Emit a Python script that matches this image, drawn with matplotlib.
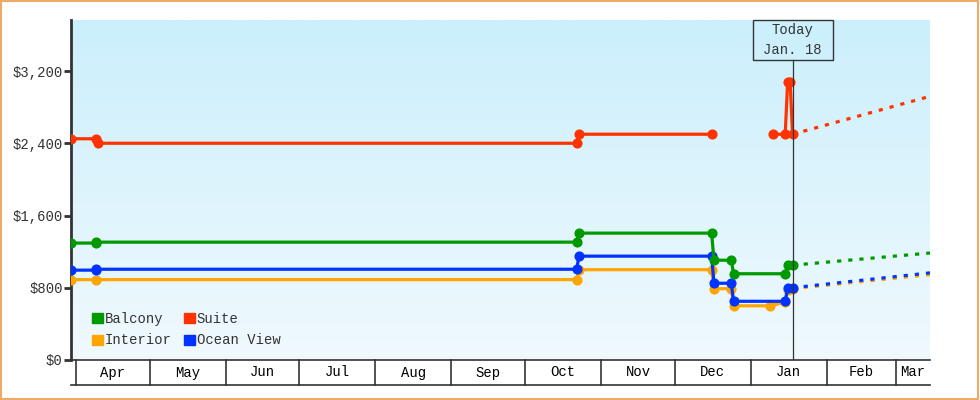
import numpy as np
import pandas as pd
import matplotlib
matplotlib.use("Agg")
import matplotlib.pyplot as plt
import matplotlib.dates as mdates
from matplotlib.patches import Rectangle

# ----------------------------
# Data (price history per cabin type, None = gap)
# ----------------------------
balcony_dates = ["2024-03-30", "2024-04-09", "2024-04-09", "2024-10-22", "2024-10-23",
                 "2024-12-16", "2024-12-17", "2024-12-24", "2024-12-25", "2025-01-15",
                 "2025-01-16", "2025-01-18"]
balcony_prices = [1295, 1295, 1305, 1305, 1405, 1405, 1105, 1105, 955, 955, 1050, 1050]

suite_dates = ["2024-03-30", "2024-04-09", "2024-04-10", "2024-10-22", "2024-10-23",
               "2024-12-16", None, "2025-01-10", "2025-01-15", "2025-01-16",
               "2025-01-17", "2025-01-18"]
suite_prices = [2450, 2450, 2400, 2400, 2500, 2500, None, 2500, 2500, 3080, 3080, 2500]

interior_dates = ["2024-03-30", "2024-04-09", "2024-10-22", "2024-10-23", "2024-12-16",
                  "2024-12-17", "2024-12-24", "2024-12-25", "2025-01-09", "2025-01-15",
                  "2025-01-16", "2025-01-18"]
interior_prices = [890, 890, 890, 1000, 1000, 790, 790, 600, 600, 640, 780, 790]

ocean_dates = ["2024-03-30", "2024-04-09", "2024-04-09", "2024-10-22", "2024-10-23",
               "2024-12-16", "2024-12-17", "2024-12-24", "2024-12-25", "2025-01-15",
               "2025-01-16", "2025-01-18"]
ocean_prices = [995, 995, 1005, 1005, 1150, 1150, 850, 850, 650, 650, 795, 800]

# forecast end values (Mar 15)
forecast_end = "2025-03-15"
balcony_forecast = 1185
suite_forecast = 2920
interior_forecast = 945
ocean_forecast = 965

today = "2025-01-18"
months = ["2024-04-01", "2024-05-01", "2024-06-01", "2024-07-01", "2024-08-01",
          "2024-09-01", "2024-10-01", "2024-11-01", "2024-12-01", "2025-01-01",
          "2025-02-01", "2025-03-01"]
month_labels = ["Apr", "May", "Jun", "Jul", "Aug", "Sep", "Oct", "Nov", "Dec", "Jan", "Feb", "Mar"]
y_ticks = [0, 800, 1600, 2400, 3200]

colors = {"Balcony": "#009900", "Suite": "#ff3300", "Interior": "#ffa500", "Ocean View": "#0033ff"}

plt.rcParams["font.family"] = ["Liberation Mono", "DejaVu Sans Mono"]
TXT = "#333333"
FS = 10


def dnum(d):
    return mdates.date2num(pd.Timestamp(d)) if d is not None else np.nan


def to_y(vals):
    return [v if v is not None else np.nan for v in vals]


fig = plt.figure(figsize=(9.8, 4), dpi=100)
fig.patch.set_facecolor("white")
ax = fig.add_axes([71 / 980, 40 / 400, 859 / 980, 340 / 400])

x0 = dnum("2024-03-30")
x1 = dnum(forecast_end)

# gradient background
grad = np.linspace(0, 1, 256).reshape(-1, 1)
cmap = matplotlib.colors.LinearSegmentedColormap.from_list("bg", ["#f0f9fe", "#cbeffc"])
ax.imshow(grad, extent=[0, 1, 0, 1], transform=ax.transAxes, origin="lower",
          aspect="auto", cmap=cmap, zorder=0)
ax.set_xlim(x0, x1)
ax.set_ylim(0, 3765)

series = [
    ("Interior", interior_dates, interior_prices, interior_forecast),
    ("Ocean View", ocean_dates, ocean_prices, ocean_forecast),
    ("Balcony", balcony_dates, balcony_prices, balcony_forecast),
    ("Suite", suite_dates, suite_prices, suite_forecast),
]

for i, (name, d, p, fc) in enumerate(series):
    c = colors[name]
    ax.plot([dnum(v) for v in d], to_y(p), color=c, lw=2.3, marker="o", ms=6.3,
            solid_joinstyle="miter", zorder=3 + i)
    ax.plot([dnum(d[-1]), x1], [p[-1], fc], color=c, lw=2.3,
            linestyle=(0, (1.3, 2.2)), dash_capstyle="butt", zorder=3 + i)

# today line and box
td = dnum(today)
tfrac = (td - x0) / (x1 - x0)
box_w, box_h = 80 / 859, 40 / 340
ax.plot([td, td], [0, 1 - box_h], transform=ax.get_xaxis_transform(), color=TXT,
        lw=0.9, zorder=10)
ax.add_patch(Rectangle((tfrac - box_w / 2, 1 - box_h), box_w, box_h, transform=ax.transAxes,
                       fill=False, ec=TXT, lw=1, zorder=11, clip_on=False))
ax.text(tfrac, 1 - box_h / 2, "Today\nJan. 18", transform=ax.transAxes, ha="center",
        va="center", fontsize=FS, color=TXT, linespacing=1.5, zorder=11)

# spines
for s in ["top", "right"]:
    ax.spines[s].set_visible(False)
ax.spines["left"].set_color(TXT)
ax.spines["left"].set_linewidth(2)
ax.spines["bottom"].set_color(TXT)
ax.spines["bottom"].set_linewidth(1.2)

ax.set_yticks(y_ticks)
ax.set_yticklabels(["${:,}".format(v) for v in y_ticks])
ax.tick_params(axis="y", length=5, width=2, color=TXT, labelcolor=TXT, labelsize=FS, pad=1)
ax.set_xticks([])

# month band below axis
trans = ax.get_xaxis_transform()
band_lo = -25 / 340
ax.plot([0, 1], [band_lo, band_lo], transform=ax.transAxes, color=TXT, lw=1.2, clip_on=False)
mnum = [dnum(m) for m in months]
for m in mnum:
    ax.plot([m, m], [0, band_lo], transform=trans, color=TXT, lw=1.2, clip_on=False)
edges = mnum + [x1]
for i, lab in enumerate(month_labels):
    cx = (edges[i] + edges[i + 1]) / 2
    ax.text(cx, band_lo / 2, lab, transform=trans, ha="center", va="center",
            fontsize=FS, color="black")

# legend
handles = [Rectangle((0, 0), 1, 1, color=colors[n]) for n in ["Balcony", "Interior", "Suite", "Ocean View"]]
leg = ax.legend(handles, ["Balcony", "Interior", "Suite", "Ocean View"], ncol=2,
                loc="lower left", bbox_to_anchor=(0.01, 0.0), frameon=False,
                fontsize=FS, handlelength=0.75, handleheight=0.75, handletextpad=0.15,
                columnspacing=0.9, labelspacing=0.55)
for t in leg.get_texts():
    t.set_color(TXT)

# figure border
fig.add_artist(Rectangle((0.001, 0.002), 0.997, 0.995, transform=fig.transFigure,
                         fill=False, ec="#eeaa66", lw=1.5))

fig.savefig("out.png", dpi=100)
